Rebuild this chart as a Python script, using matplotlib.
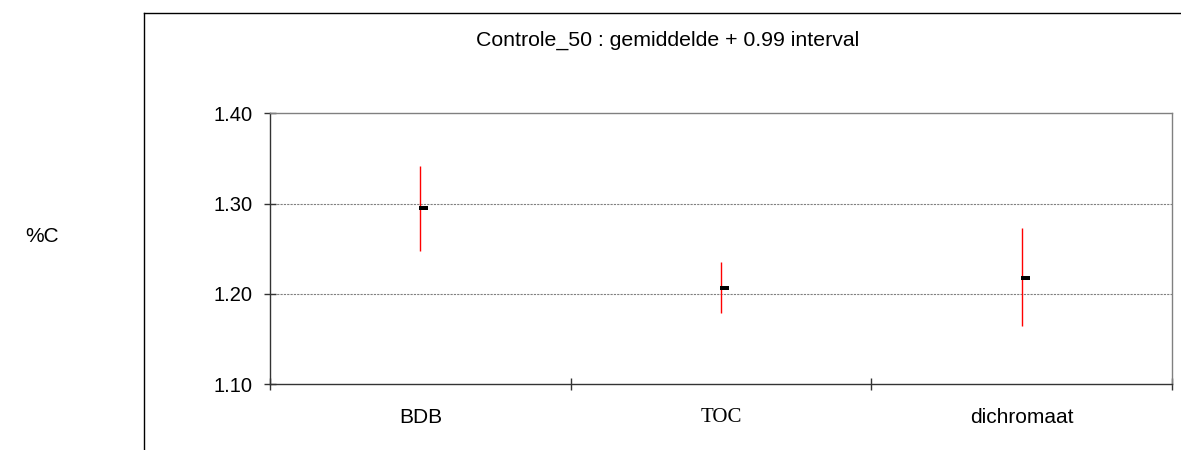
import matplotlib
matplotlib.use("Agg")
import matplotlib.pyplot as plt
from matplotlib.path import Path
from matplotlib.lines import Line2D
import numpy as np

categories = ["BDB", "TOC", "dichromaat"]
means = [1.295, 1.207, 1.218]
lower = [1.248, 1.179, 1.164]
upper = [1.342, 1.235, 1.273]
yticks = [1.10, 1.20, 1.30, 1.40]
title = "Controle_50 : gemiddelde + 0.99 interval"
ylabel = "%C"

W, H = 1181, 450
fig = plt.figure(figsize=(W / 100, H / 100), dpi=100)
fig.patch.set_facecolor("white")

# outer chart frame (cut at right and bottom)
fig.add_artist(Line2D([143.5 / W, 143.5 / W], [0, 1 - 12.5 / H], color="black", lw=1.0,
                      transform=fig.transFigure))
fig.add_artist(Line2D([143.5 / W, 1], [1 - 12.5 / H, 1 - 12.5 / H], color="black", lw=1.0,
                      transform=fig.transFigure))

left, right = 270 / W, 1172 / W
bottom, top = 1 - 384.3 / H, 1 - 113.3 / H
ax = fig.add_axes([left, bottom, right - left, top - bottom])

x = np.arange(len(categories)) + 0.5
ax.set_xlim(0, len(categories))
ax.set_ylim(yticks[0], yticks[-1])

for yv in yticks[1:-1]:
    ax.axhline(yv, color="#808080", lw=0.8, dashes=(2, 1), zorder=1)

ax.vlines(x, lower, upper, color="red", lw=1.0, zorder=2)

verts = [(-0.1, -0.235), (0.9, -0.235), (0.9, 0.235), (-0.1, 0.235), (-0.1, -0.235)]
codes = [Path.MOVETO, Path.LINETO, Path.LINETO, Path.LINETO, Path.CLOSEPOLY]
mpath = Path(verts, codes)
ax.plot(x, means, linestyle="none", marker=mpath, markersize=11,
        color="black", markeredgewidth=0, zorder=3)

for s in ["left", "bottom"]:
    ax.spines[s].set_color("#333333")
    ax.spines[s].set_linewidth(1.0)
for s in ["top", "right"]:
    ax.spines[s].set_color("#808080")
    ax.spines[s].set_linewidth(1.0)

ax.set_yticks(yticks)
ax.set_yticklabels([f"{v:.2f}" for v in yticks], fontsize=14.5, family="Liberation Sans")
ax.tick_params(axis="y", direction="inout", length=9, width=1.0, color="#333333", pad=8)

ax.set_xticks(np.arange(len(categories) + 1))
ax.set_xticklabels([])
ax.tick_params(axis="x", which="major", direction="inout", length=9, width=1.0, color="#333333")
ax.set_xticks(x, minor=True)
ax.set_xticklabels(categories, minor=True, fontsize=15, family="Liberation Sans")
ax.tick_params(axis="x", which="minor", length=0, pad=17)
ax.get_xticklabels(minor=True)[1].set_family("Liberation Serif")

fig.text(668 / W, 1 - 40 / H, title, ha="center", va="center", fontsize=15.3,
         family="Liberation Sans")
fig.text(42 / W, 1 - 237 / H, ylabel, ha="center", va="center", fontsize=15,
         family="Liberation Sans")

fig.savefig("out.png", dpi=100, facecolor="white")
